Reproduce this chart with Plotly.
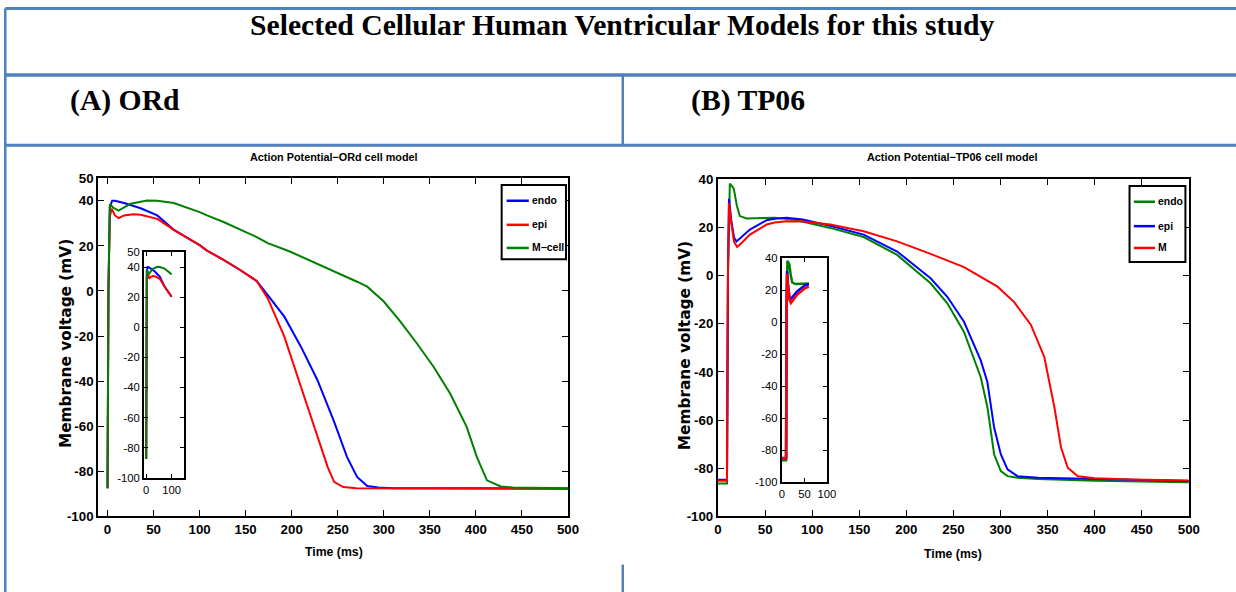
import plotly.graph_objects as go

# Layout is designed in reference-image pixels and mapped onto the page
# (the page shows an 8 px body margin and is photographed slightly reduced).
OFF = 8
SX, SY = 0.983, 0.971
W = int(round(1236 / SX - OFF)) + 1
H = int(round(592 / SY - OFF)) + 1
FS = 1 / 0.977  # font compensation

# ---------------- data ----------------
ORD_ENDO_T = [0, 1, 2.5, 5, 8, 18, 36, 54, 72, 90, 100, 108, 126, 144, 162, 174, 192, 210, 228, 246, 260, 271, 282, 294, 310, 500]
ORD_ENDO_V = [-87.5, 0, 37, 40, 40, 39, 36.7, 33.5, 27.1, 22.7, 20.3, 17.9, 13.8, 9.3, 4.4, -1.8, -11.4, -24.7, -39.6, -58, -73.6, -82.5, -86.5, -87.2, -87.5, -87.6]

ORD_EPI_T = [0, 1, 2.5, 4.5, 8, 12, 18, 28, 36, 54, 72, 90, 100, 108, 126, 144, 162, 174, 192, 210, 228, 239, 246, 256, 270, 500]
ORD_EPI_V = [-87.5, 0, 33, 36.5, 33.5, 32.3, 33.5, 34, 33.8, 32, 27.1, 22.7, 20.3, 17.9, 13.8, 9.3, 4.4, -3.3, -20.3, -42.5, -64.7, -78, -84.7, -87, -87.5, -87.8]

ORD_M_T = [0, 1, 2.5, 6, 12, 25, 43, 54, 72, 90, 100, 108, 126, 162, 174, 198, 235, 271, 282, 300, 318, 336, 354, 372, 390, 401, 412, 427, 440, 500]
ORD_M_V = [-87.5, 0, 38.5, 37, 35.6, 38.7, 40.1, 40, 39, 36.5, 35, 33.5, 30.6, 23.9, 21.2, 17.5, 10.8, 4.1, 1.9, -4.7, -13.6, -23.3, -33.6, -45.5, -60.3, -73.6, -84, -86.7, -87.2, -87.5]

TP_ENDO_T = [0, 9.5, 10.5, 11.5, 12.5, 15, 16.7, 20, 23.1, 30.3, 45, 60, 80, 119, 154.6, 190.2, 225.7, 243.5, 261.2, 279, 286.1, 293.2, 300.3, 307.4, 318, 340, 400, 500]
TP_ENDO_V = [-86.3, -86.3, 0, 30, 38.2, 37, 36.1, 29, 24.7, 23.7, 24, 24, 23.3, 19.8, 16, 8.6, -3.2, -11.5, -23.4, -42.2, -54.7, -74.2, -81.2, -83.3, -84, -84.5, -85.2, -85.8]

TP_EPI_T = [0, 9.5, 10.5, 11.7, 14, 17, 19.6, 25, 33.8, 51.6, 60, 72.9, 90, 119, 154.6, 190.2, 225.7, 243.5, 261.2, 279, 286.1, 293.2, 300.3, 307.4, 318, 340, 400, 500]
TP_EPI_V = [-84.8, -84.8, 0, 31.9, 23, 15.8, 14.2, 16, 19.1, 23, 23.6, 24, 23.3, 20.7, 17, 10, -1.1, -8.8, -19.2, -35.2, -44.3, -63.1, -74.2, -80.5, -83.3, -84, -84.6, -85.3]

TP_M_T = [0, 9.5, 10.5, 11.5, 14, 17, 20.3, 25, 33.8, 51.6, 60, 72.9, 90, 119, 154.6, 190.2, 225.7, 261.2, 296.8, 314.5, 332.3, 346.5, 357.2, 364.3, 371.4, 382.1, 400, 440, 500]
TP_M_V = [-85.2, -85.2, 0, 30.2, 22, 14, 11.9, 13.5, 17, 21.2, 22, 22.6, 22.5, 21.2, 18.4, 14.2, 9, 3.5, -4.6, -11, -20.5, -33.8, -54.7, -71.4, -79.8, -83.3, -84.2, -84.7, -85.1]

ORD_NAMES = ["endo", "epi", "M\u2212cell"]
TP_NAMES = ["endo", "epi", "M"]

ORD_XTICKS = [0, 50, 100, 150, 200, 250, 300, 350, 400, 450, 500]
ORD_YTICKS = [-100, -80, -60, -40, -20, 0, 20, 40, 50]
ORD_INSET_XTICKS = [0, 100]
TP_XTICKS = [0, 50, 100, 150, 200, 250, 300, 350, 400, 450, 500]
TP_YTICKS = [-100, -80, -60, -40, -20, 0, 20, 40]
TP_INSET_XTICKS = [0, 50, 100]

ORD_INSET_TMAX = 100
TP_INSET_TMAX = 60

BLUE, RED, GREEN = "#0000FF", "#FF0000", "#008000"
FRAME = "#4F81BD"
SANS = "Liberation Sans, Arial, sans-serif"
SERIF = "Liberation Serif, Times New Roman, serif"


def fxp(x):
    return x / SX - OFF


def fyp(y):
    return y / SY - OFF


def px(x):
    return fxp(x) / W


def py(y):
    return 1 - fyp(y) / H


def lab(v):
    return [str(t) for t in v]


def clip(t, v, tmax):
    pts = [(a, b) for a, b in zip(t, v) if a <= tmax]
    return [p[0] for p in pts], [p[1] for p in pts]


fig = go.Figure()

ord_series = [(ORD_ENDO_T, ORD_ENDO_V, BLUE), (ORD_EPI_T, ORD_EPI_V, RED), (ORD_M_T, ORD_M_V, GREEN)]
tp_series = [(TP_ENDO_T, TP_ENDO_V, GREEN), (TP_EPI_T, TP_EPI_V, BLUE), (TP_M_T, TP_M_V, RED)]

for name, (t, v, c) in zip(ORD_NAMES, ord_series):
    fig.add_trace(go.Scatter(x=t, y=v, mode="lines", name=name, line=dict(color=c, width=2),
                             xaxis="x", yaxis="y", showlegend=False))
for name, (t, v, c) in zip(ORD_NAMES, ord_series):
    ti, vi = clip(t, v, ORD_INSET_TMAX)
    fig.add_trace(go.Scatter(x=ti, y=vi, mode="lines", name=name, line=dict(color=c, width=2),
                             xaxis="x2", yaxis="y2", showlegend=False))
for name, (t, v, c) in zip(TP_NAMES, tp_series):
    fig.add_trace(go.Scatter(x=t, y=v, mode="lines", name=name, line=dict(color=c, width=2),
                             xaxis="x3", yaxis="y3", showlegend=False))
for name, (t, v, c) in zip(TP_NAMES, tp_series):
    ti, vi = clip(t, v, TP_INSET_TMAX)
    fig.add_trace(go.Scatter(x=ti, y=vi, mode="lines", name=name, line=dict(color=c, width=2.5),
                             xaxis="x4", yaxis="y4", showlegend=False))

main_tick_font = dict(family=SANS, size=13 * FS, color="black", weight="bold")
inset_tick_font = dict(family=SANS, size=11 * FS, color="black")


def ax(domain, rng, ticks, font, anchor, ticklen=6, lw=2.2):
    return dict(domain=domain, range=rng, tickmode="array", tickvals=ticks, ticktext=lab(ticks),
                ticks="inside", ticklen=ticklen, tickwidth=1, tickcolor="black",
                showline=True, linecolor="black", linewidth=lw, mirror="ticks",
                showgrid=False, zeroline=False, tickfont=font, anchor=anchor, fixedrange=True)


fig.update_layout(
    width=W, height=H, margin=dict(l=0, r=0, t=0, b=0),
    paper_bgcolor="white", plot_bgcolor="white", showlegend=False,
    xaxis=ax([px(101.7), px(569)], [-10, 500], ORD_XTICKS, main_tick_font, "y"),
    yaxis=ax([py(515), py(178.3)], [-100, 50], ORD_YTICKS, main_tick_font, "x"),
    xaxis2=ax([px(147.3), px(187.3)], [-8, 150], ORD_INSET_XTICKS, inset_tick_font, "y2", 4),
    yaxis2=ax([py(476.7), py(251.7)], [-100, 50], ORD_YTICKS, inset_tick_font, "x2", 4),
    xaxis3=ax([px(718.3), px(1186.7)], [0, 500], TP_XTICKS, main_tick_font, "y3"),
    yaxis3=ax([py(515), py(179.3)], [-100, 40], TP_YTICKS, main_tick_font, "x3"),
    xaxis4=ax([px(781.7), px(826.7)], [0, 100], TP_INSET_XTICKS, inset_tick_font, "y4", 4),
    yaxis4=ax([py(481), py(257.7)], [-100, 40], TP_YTICKS, inset_tick_font, "x4", 4),
)


# ---------------- helpers for decorations ----------------
def seg(x0, y0, x1, y1, color, w, clamp=False):
    X0, X1, Y0, Y1 = px(x0), px(x1), py(y0), py(y1)
    if clamp:
        X0, X1 = max(X0, 0.001), min(X1, 1.0)
        Y0, Y1 = min(Y0, 0.999), min(Y1, 0.999)
    fig.add_shape(type="line", xref="paper", yref="paper", x0=X0, x1=X1, y0=Y0, y1=Y1,
                  line=dict(color=color, width=w))


def note(text, x, y, font, xanchor="center", angle=0):
    fig.add_annotation(text=text, x=px(x), y=py(y), xref="paper", yref="paper", showarrow=False,
                       xanchor=xanchor, yanchor="middle", textangle=angle, font=font)


# ---------------- legends (boxed, MATLAB style) ----------------
legend_font = dict(family=SANS, size=10.2 * FS, color="black", weight="bold")


def legend_box(x0, y0, x1, y1, rows_y, sw0, sw1, names, series):
    fig.add_shape(type="rect", xref="paper", yref="paper", x0=px(x0), x1=px(x1), y0=py(y1), y1=py(y0),
                  line=dict(color="black", width=2), fillcolor="white")
    for yy, name, s in zip(rows_y, names, series):
        seg(sw0, yy, sw1, yy, s[2], 2.5)
        note(name, sw1 + 1.2, yy, legend_font, "left")


legend_box(503, 185, 567, 259, [200.7, 224.7, 247.7], 508, 530, ORD_NAMES, ord_series)
legend_box(1127.7, 186, 1183.3, 261.7, [201.7, 226, 247.7], 1132, 1153, TP_NAMES, tp_series)

# ---------------- table frame ----------------
TOP_Y = SY * (OFF + 1.5)   # topmost drawable row
LEFT_X = SX * (OFF + 1.3)  # leftmost drawable column
seg(0, TOP_Y, 1240, TOP_Y, FRAME, 3, clamp=True)
seg(0, 75.5, 1240, 75.5, FRAME, 3.5, clamp=True)
seg(0, 145.5, 1240, 145.5, FRAME, 3, clamp=True)
seg(LEFT_X, TOP_Y, LEFT_X, 600, FRAME, 2.5, clamp=True)
seg(623.5, 75, 623.5, 146, FRAME, 2.5)
seg(623.5, 563, 623.5, 600, FRAME, 2.5)

# ---------------- text ----------------
serif_b = lambda s: dict(family=SERIF, size=s * FS, color="black", weight="bold")
note("Selected Cellular Human Ventricular Models for this study", 623, 26, serif_b(29))
note("(A) ORd", 72, 101, serif_b(29), "left")
note("(B) TP06", 689, 101, serif_b(29), "left")

title_font = dict(family=SANS, size=10.6 * FS, color="black", weight="bold")
note("Action Potential\u2212ORd cell model", 336, 157.5, title_font)
note("Action Potential\u2212TP06 cell model", 952, 157.5, title_font)

xt_font = dict(family=SANS, size=12 * FS, color="black", weight="bold")
note("Time (ms)", 336, 550, xt_font)
note("Time (ms)", 952, 552, xt_font)

yt_font = dict(family="DejaVu Sans, Arial, sans-serif", size=15 * FS, color="black", weight="bold")
note("Membrane voltage (mV)", 69, 343, yt_font, angle=-90)
note("Membrane voltage (mV)", 685, 345, yt_font, angle=-90)

fig.write_html("out.html")
